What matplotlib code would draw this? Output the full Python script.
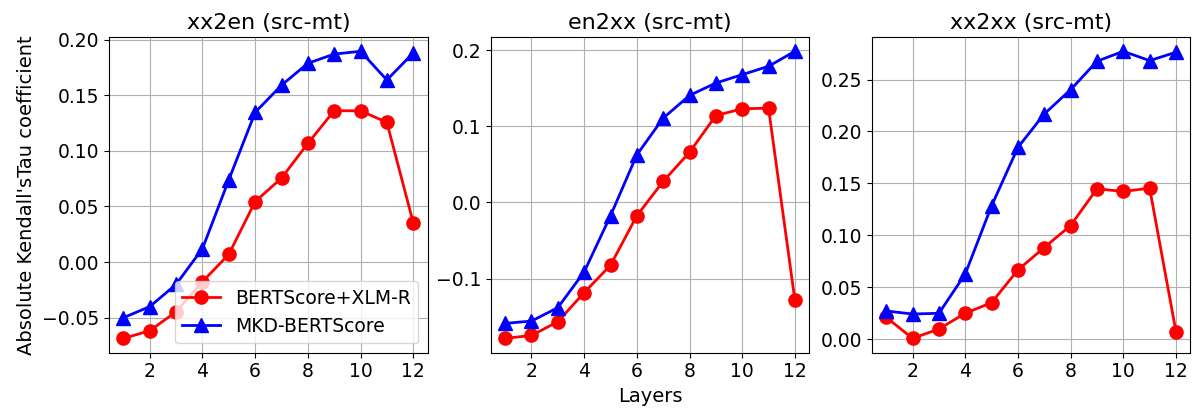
import numpy as np
import matplotlib
matplotlib.use("Agg")
import matplotlib.pyplot as plt
from matplotlib.ticker import MultipleLocator

# layers 1..12
layers = np.arange(1, 13)

titles = ["xx2en (src-mt)", "en2xx (src-mt)", "xx2xx (src-mt)"]

# BERTScore+XLM-R
xlmr_xx2en = [-0.0686, -0.0617, -0.0446, -0.0176, 0.0070, 0.0544, 0.0755, 0.1067, 0.1361, 0.1360, 0.1256, 0.0355]
xlmr_en2xx = [-0.1786, -0.1747, -0.1567, -0.1184, -0.0824, -0.0174, 0.0278, 0.0660, 0.1143, 0.1231, 0.1240, -0.1285]
xlmr_xx2xx = [0.0209, 0.0006, 0.0097, 0.0248, 0.0351, 0.0666, 0.0882, 0.1094, 0.1448, 0.1422, 0.1454, 0.0071]

# MKD-BERTScore
mkd_xx2en = [-0.0500, -0.0400, -0.0200, 0.0121, 0.0740, 0.1346, 0.1590, 0.1787, 0.1870, 0.1895, 0.1637, 0.1880]
mkd_en2xx = [-0.1589, -0.1558, -0.1382, -0.0912, -0.0174, 0.0626, 0.1109, 0.1407, 0.1570, 0.1680, 0.1790, 0.1987]
mkd_xx2xx = [0.0270, 0.0241, 0.0248, 0.0627, 0.1284, 0.1847, 0.2169, 0.2403, 0.2677, 0.2773, 0.2683, 0.2764]

xlmr = [xlmr_xx2en, xlmr_en2xx, xlmr_xx2xx]
mkd = [mkd_xx2en, mkd_en2xx, mkd_xx2xx]
ysteps = [0.05, 0.1, 0.05]

fig = plt.figure(figsize=(11.95, 4.15), dpi=100)
lefts = [0.0912, 0.4106, 0.7295]
axes = []
for i in range(3):
    ax = fig.add_axes([lefts[i], 0.150, 0.2667, 0.761])
    ax.plot(layers, xlmr[i], "-o", color="red", lw=2, ms=9.5, label="BERTScore+XLM-R")
    ax.plot(layers, mkd[i], "-^", color="blue", lw=2, ms=9.5, label="MKD-BERTScore")
    ax.set_title(titles[i], fontsize=16)
    ax.set_xticks([2, 4, 6, 8, 10, 12])
    ax.yaxis.set_major_locator(MultipleLocator(ysteps[i]))
    ax.tick_params(labelsize=13.5)
    ax.grid(True)
    axes.append(ax)

axes[0].set_ylabel("Absolute Kendall'sTau coefficient", fontsize=14)
axes[1].set_xlabel("Layers", fontsize=14)
axes[0].legend(loc="lower right", fontsize=13.5)

fig.savefig("out.png", dpi=100)
